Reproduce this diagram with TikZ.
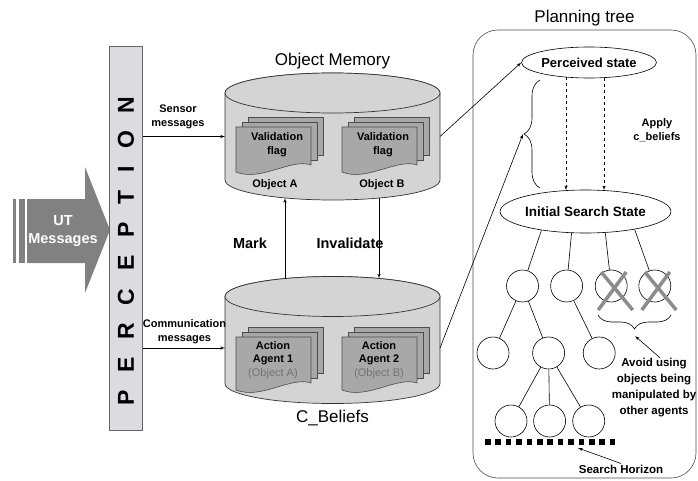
\documentclass[tikz,border=0pt]{standalone}
\usepackage{fontspec}
\setmainfont{Liberation Sans}
\usepackage{xcolor}
\usepackage{tikz}
\usetikzlibrary{shapes,arrows}
\usetikzlibrary{positioning,calc,decorations.pathreplacing}

\definecolor{drumgray}{HTML}{D4D4D4}
\definecolor{docgray}{HTML}{A8A8A8}
\definecolor{bargray}{HTML}{DCDBE0}
\definecolor{msggray}{HTML}{818181}
\definecolor{crossgray}{HTML}{8C8C8C}

\tikzstyle{drum} = [rectangle, minimum width=215pt, minimum height=127pt, inner sep=0pt, outer sep=0pt]
\tikzstyle{drumline} = [draw=black!80, fill=drumgray, line width=0.7pt]
\tikzstyle{page} = [draw=black!70, fill=docgray, line width=0.6pt]
\tikzstyle{title} = [font=\fontsize{17}{20}\selectfont, inner sep=0pt]
\tikzstyle{small} = [font=\fontsize{11}{14}\selectfont\bfseries, align=center, inner sep=0pt]
\tikzstyle{big} = [font=\fontsize{14.5}{18}\selectfont\bfseries, align=center, inner sep=0pt]
\tikzstyle{state} = [ellipse, draw, fill=white, inner sep=0pt, font=\fontsize{13}{15}\selectfont\bfseries]
\tikzstyle{leaf} = [circle, draw, fill=white, minimum size=32pt, inner sep=0pt]
\tikzstyle{cross} = [draw=crossgray, line width=3.5pt]
\tikzstyle{line} = [draw, -latex']
\tikzstyle{dashline} = [draw, dashed, -latex']

% cylinder drawn over the area of a drum node
\newcommand{\drawdrum}[1]{%
  \filldraw[drumline] ([yshift=-20pt]#1.north west) -- ([yshift=20pt]#1.south west)
    arc[start angle=180, end angle=360, x radius=107.5pt, y radius=20pt]
    -- ([yshift=-20pt]#1.north east)
    arc[start angle=0, end angle=180, x radius=107.5pt, y radius=20pt] -- cycle;
  \draw[drumline] ([yshift=-20pt]#1.north) ellipse [x radius=107.5pt, y radius=20pt];
}

% stack of three pages, front page top left at (#1,#2), height #3
\newcommand{\docstack}[3]{%
  \begin{scope}[shift={(#1,#2)}]
    \filldraw[page] (12,10) rectangle (87,{-#3+17});
    \filldraw[page] (6,5) rectangle (81,{-#3+12});
    \filldraw[page] (0,0) -- (75,0) -- (75,{-#3+7})
      .. controls (55,{-#3+14}) and (25,{-#3-10}) .. (0,{-#3}) -- cycle;
  \end{scope}}

\begin{document}
\begin{tikzpicture}[x=1pt, y=1pt, line width=0.6pt]
    \useasboundingbox (0,0) rectangle (698,480);

    % UT messages arrow
    \fill[msggray] (13,217) rectangle (16,281);
    \fill[msggray] (18.5,217) rectangle (25,281);
    \fill[msggray] (27,217) -- (85,217) -- (85,187) -- (110,250) -- (85,313)
        -- (85,281) -- (27,281) -- cycle;
    \node [big, text=white] (ut) at (63,249) {UT\\Messages};

    % Perception bar
    \node [draw=black!60, fill=bargray, minimum width=33pt, minimum height=384pt,
        inner sep=0pt] (bar) at (126,242) {};
    \node [rotate=90, inner sep=0pt,
        font=\fontsize{23}{23}\selectfont\bfseries\addfontfeatures{LetterSpace=77}]
        (perc) at (126,229) {PERCEPTION};

    % Object memory
    \node [drum] (mem) at (332.5,343.5) {};
    \drawdrum{mem}
    \node [title, above=4pt of mem] (memtitle) {Object Memory};
    \docstack{236}{353}{45}
    \docstack{342}{353}{45}
    \node [small] (flagA) at (277,335) {Validation\\flag};
    \node [small] (flagB) at (383,335) {Validation\\flag};
    \node [small] (objA) at (275,295) {Object A};
    \node [small] (objB) at (382,295) {Object B};

    % C_Beliefs
    \node [drum] (beliefs) at (332.5,140) {};
    \drawdrum{beliefs}
    \node [title, below=6pt of beliefs] (belieftitle) {C\_Beliefs};
    \docstack{236}{143}{53}
    \docstack{342}{143}{53}
    \node [small, font=\fontsize{11}{13.5}\selectfont\bfseries] (agent1) at (273,120)
        {Action\\Agent 1\\{\mdseries\color{black!55}(Object A)}};
    \node [small, font=\fontsize{11}{13.5}\selectfont\bfseries] (agent2) at (379,120)
        {Action\\Agent 2\\{\mdseries\color{black!55}(Object B)}};

    % Message labels
    \node [small] (sensor) at (178,363) {Sensor\\messages};
    \node [small] (comm) at (184.5,148) {Communication\\messages};
    \node [big] (mark) at (250,237) {Mark};
    \node [big] (inval) at (350,237) {Invalidate};

    % Planning tree
    \node [draw=black!70, rounded corners=25pt, minimum width=223pt,
        minimum height=448pt, inner sep=0pt] (tree) at (584.5,226) {};
    \node [title, above=3pt of tree] (treetitle) {Planning tree};
    \node [state, minimum width=132pt, minimum height=31pt] (perceived) at (589,417.5)
        {Perceived state};
    \node [state, minimum width=161pt, minimum height=43pt,
        font=\fontsize{13.5}{16}\selectfont\bfseries] (init) at (585.5,268.5)
        {Initial Search State};
    \draw [decorate, decoration={brace, amplitude=16pt}] (540,292) -- (540,400);
    \coordinate (applyTip) at (523,346);
    \node [small] (apply) at (657,350) {Apply\\c\_beliefs};

    \node [leaf] (c1) at (522.5,194) {};
    \node [leaf, right=11.5pt of c1] (c2) {};
    \node [leaf, right=12pt of c2] (c3) {};
    \node [leaf, right=11pt of c3] (c4) {};
    \node [leaf] (d1) at (493,127) {};
    \node [leaf, right=23pt of d1] (d2) {};
    \node [leaf, right=18pt of d2] (d3) {};
    \node [leaf] (e1) at (511,59) {};
    \node [leaf, right=6pt of e1] (e2) {};
    \node [leaf, right=6.5pt of e2] (e3) {};

    \draw [decorate, decoration={brace, amplitude=14pt}] (671,165) -- (598,165);
    \coordinate (avoidTip) at (635,144);
    \node [small, font=\fontsize{11.5}{16}\selectfont\bfseries] (avoid) at (654,92.5)
        {Avoid using\\objects being\\manipulated by\\other agents};

    \coordinate (hzL) at (485,38);
    \coordinate (hzR) at (615,38);
    \draw [line width=5.5pt, dash pattern=on 5.5pt off 4.9pt] (hzL) -- (hzR);
    \coordinate (hzTip) at (578,32);
    \node [small, font=\fontsize{11.5}{14}\selectfont\bfseries] (horizon) at (621,11)
        {Search Horizon};

    % Draw edges
    \coordinate (commIn) at ($(beliefs.west)+(0,-8)$);
    \path [line] (bar.east |- mem.west) -- (mem.west);
    \path [line] (bar.east |- commIn) -- (commIn);
    \path [line] ($(beliefs.north)+(-47.5,-2)$) -- ($(mem.south)+(-47.5,2)$);
    \path [line] ($(mem.south)+(46.5,2)$) -- ($(beliefs.north)+(46.5,-2)$);
    \path [line] (mem.east) -- (perceived.west);
    \path [line] ($(beliefs.east)+(0,-8)$) -- (applyTip);
    \path [dashline] ($(perceived.south)+(-23,1)$) -- ($(init.north)+(-19.5,-0.6)$);
    \path [dashline] ($(perceived.south)+(15,0.5)$) -- ($(init.north)+(18.5,-0.6)$);

    \draw (init.203) -- (c1);
    \draw (init.237) -- (c2);
    \draw (init.313) -- (c3);
    \draw (init.340) -- (c4);
    \draw (c1) -- (d1);
    \draw (c1) -- (d2);
    \draw (c2) -- (d3);
    \draw (d2) -- (e1);
    \draw (d2) -- (e2);
    \draw (d2) -- (e3);
    \foreach \c in {c3,c4} {
        \draw [cross] ($(\c)+(-10,14)$) -- ($(\c)+(21.5,-24)$);
        \draw [cross] ($(\c)+(15,14)$) -- ($(\c)+(-13,-24)$);
    }
    \path [line] ([xshift=6pt]avoid.north) -- (avoidTip);
    \path [line] ([yshift=1pt]horizon.north) -- (hzTip);

\end{tikzpicture}
\end{document}
